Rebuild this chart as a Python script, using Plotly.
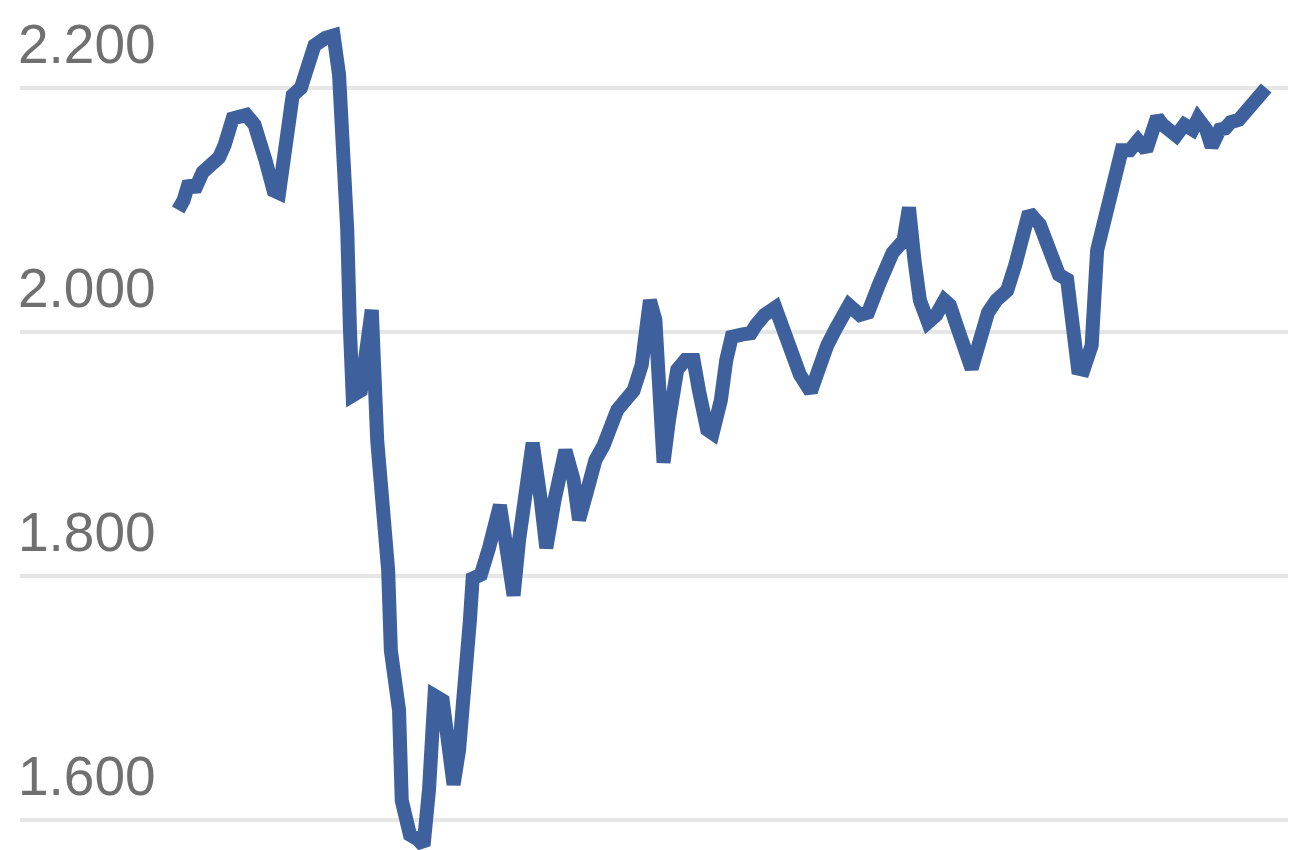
import plotly.graph_objects as go

# daily closes (index level)
dates = [
    "2019-12-27", "2019-12-29", "2019-12-31", "2020-01-02", "2020-01-05", "2020-01-08",
    "2020-01-11", "2020-01-13", "2020-01-16", "2020-01-21", "2020-01-24", "2020-01-28",
    "2020-01-31", "2020-02-02", "2020-02-05", "2020-02-07", "2020-02-10", "2020-02-12",
    "2020-02-15", "2020-02-19", "2020-02-22", "2020-02-24", "2020-02-26", "2020-02-27",
    "2020-02-28", "2020-02-29", "2020-03-03", "2020-03-06", "2020-03-07", "2020-03-09",
    "2020-03-11", "2020-03-13", "2020-03-14", "2020-03-16", "2020-03-17", "2020-03-18",
    "2020-03-21", "2020-03-24", "2020-03-26", "2020-03-28", "2020-03-30", "2020-04-02",
    "2020-04-04", "2020-04-06", "2020-04-08", "2020-04-10", "2020-04-12", "2020-04-13",
    "2020-04-16", "2020-04-19", "2020-04-21", "2020-04-23", "2020-04-25", "2020-04-28",
    "2020-04-30", "2020-05-02", "2020-05-05", "2020-05-08", "2020-05-10", "2020-05-13",
    "2020-05-15", "2020-05-17", "2020-05-20", "2020-05-22", "2020-05-25", "2020-05-28",
    "2020-05-31", "2020-06-02", "2020-06-05", "2020-06-08", "2020-06-11", "2020-06-14",
    "2020-06-17", "2020-06-19", "2020-06-21", "2020-06-22", "2020-06-24", "2020-06-27",
    "2020-06-30", "2020-07-03", "2020-07-05", "2020-07-08", "2020-07-10", "2020-07-13",
    "2020-07-15", "2020-07-17", "2020-07-21", "2020-07-24", "2020-07-26", "2020-07-29",
    "2020-08-02", "2020-08-05", "2020-08-08", "2020-08-11", "2020-08-15", "2020-08-17",
    "2020-08-21", "2020-08-24", "2020-08-27", "2020-08-29", "2020-09-02", "2020-09-05",
    "2020-09-09", "2020-09-14", "2020-09-18", "2020-09-20", "2020-09-22", "2020-09-24",
    "2020-09-27", "2020-09-30", "2020-10-03", "2020-10-05", "2020-10-08", "2020-10-10",
    "2020-10-13", "2020-10-16", "2020-10-19", "2020-10-22", "2020-10-26", "2020-10-29",
    "2020-10-31", "2020-11-03", "2020-11-07", "2020-11-10", "2020-11-14", "2020-11-17",
    "2020-11-19", "2020-11-21", "2020-11-23", "2020-11-26", "2020-11-28", "2020-11-30",
    "2020-12-02", "2020-12-04", "2020-12-07", "2020-12-10", "2020-12-13", "2020-12-16",
    "2020-12-20", "2020-12-22", "2020-12-27", "2020-12-30", "2021-01-02", "2021-01-04",
    "2021-01-07", "2021-01-09", "2021-01-12", "2021-01-14", "2021-01-16", "2021-01-19",
    "2021-01-22", "2021-01-24", "2021-01-26", "2021-01-29",
]

values = [
    2100, 2108, 2123, 2116, 2131, 2137,
    2143, 2153, 2175, 2178, 2170, 2141,
    2116, 2114, 2166, 2194, 2200, 2216,
    2235, 2241, 2243, 2211, 2149, 2084,
    2002, 1948, 1952, 2010, 2018, 1911,
    1862, 1805, 1739, 1698, 1690, 1616,
    1588, 1584, 1579, 1625, 1702, 1698,
    1666, 1629, 1657, 1698, 1764, 1798,
    1801, 1823, 1842, 1858, 1829, 1784,
    1829, 1862, 1909, 1862, 1823, 1862,
    1887, 1903, 1879, 1846, 1870, 1895,
    1907, 1920, 1936, 1944, 1952, 1973,
    2026, 2010, 1944, 1893, 1928, 1969,
    1977, 1977, 1952, 1920, 1917, 1944,
    1977, 1996, 1998, 1999, 2006, 2014,
    2020, 2002, 1981, 1965, 1951, 1965,
    1989, 2002, 2018, 2022, 2014, 2016,
    2039, 2065, 2075, 2102, 2059, 2026,
    2008, 2014, 2026, 2022, 2002, 1989,
    1970, 1993, 2016, 2026, 2034, 2055,
    2075, 2098, 2088, 2071, 2047, 2043,
    2002, 1970, 1969, 1989, 2067, 2088,
    2100, 2129, 2149, 2149, 2157, 2149,
    2176, 2170, 2161, 2170, 2166, 2175,
    2166, 2152, 2166, 2167, 2172, 2174,
    2182, 2187, 2190, 2200,
]

y_ticks = [1600, 1800, 2000, 2200]

fig = go.Figure()
fig.add_trace(go.Scatter(
    x=dates,
    y=values,
    mode="lines",
    line=dict(color="#3e619d", width=14),
    hoverinfo="skip",
    showlegend=False,
))

# page body has an 8px margin, so the figure is a bit smaller than the window
fig.update_layout(
    width=1292,
    height=842,
    margin=dict(l=12, r=12, t=0, b=0),
    paper_bgcolor="white",
    plot_bgcolor="white",
    separators=",.",
    font=dict(family="Liberation Sans, Arial, sans-serif", color="#707070", size=55),
    xaxis=dict(
        range=["2019-10-30", "2021-02-06"],
        showgrid=False,
        showticklabels=False,
        zeroline=False,
        showline=False,
    ),
    yaxis=dict(
        range=[1575.4, 2265.6],
        tickvals=y_ticks,
        tickformat=",.0f",
        tickfont=dict(color="#707070", size=55),
        ticklabelposition="inside",
        ticklabelshift=-44,
        ticklabelstandoff=-5,
        showgrid=True,
        gridcolor="#e6e6e6",
        gridwidth=4,
        zeroline=False,
        showline=False,
    ),
)

fig.write_html("out.html")
